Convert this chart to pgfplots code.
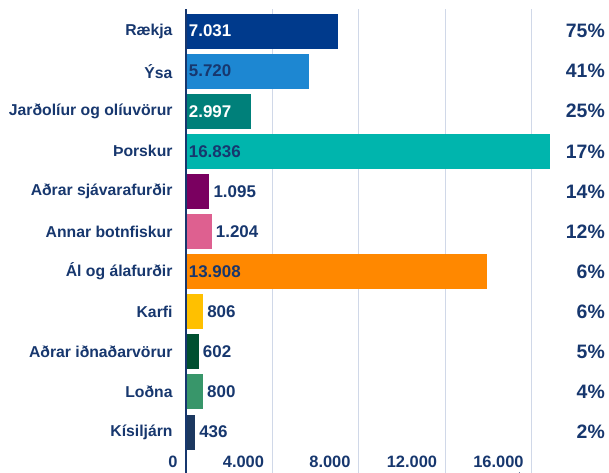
\documentclass[border=0pt]{standalone}
\usepackage{fontspec}
\setmainfont{Liberation Sans}
\usepackage{pgfplots}
\pgfplotsset{compat=1.18}
\definecolor{txt}{RGB}{23,55,110}
\definecolor{gridc}{RGB}{208,216,232}
\definecolor{c1}{RGB}{0,58,140}
\definecolor{c2}{RGB}{29,135,210}
\definecolor{c3}{RGB}{0,128,122}
\definecolor{c4}{RGB}{0,181,173}
\definecolor{c5}{RGB}{122,0,96}
\definecolor{c6}{RGB}{222,96,144}
\definecolor{c7}{RGB}{255,136,0}
\definecolor{c8}{RGB}{255,192,0}
\definecolor{c9}{RGB}{0,80,48}
\definecolor{c10}{RGB}{56,150,106}
\definecolor{c11}{RGB}{28,56,96}
\begin{document}
\begin{tikzpicture}[font=\fontsize{15.8}{18}\selectfont\bfseries, text=txt]
\begin{axis}[
  scale only axis, width=367.7bp, height=464bp,
  xmin=0, xmax=17000, ymin=-1.02, ymax=10.549,
  xbar, bar width=35bp, bar shift=0pt,
  axis line style={draw=none},
  major tick length=0pt,
  xtick={0,4000,8000,12000,16000},
  xticklabels={0,4.000,8.000,12.000,16.000},
  xmajorgrids, grid style={draw=gridc, line width=1.2bp},
  ytick={0,...,10},
  yticklabels={Kísiljárn,Loðna,Aðrar iðnaðarvörur,Karfi,Ál og álafurðir,Annar botnfiskur,Aðrar sjávarafurðir,Þorskur,Jarðolíur og olíuvörur,Ýsa,Rækja},
  yticklabel style={anchor=east, inner sep=0pt, xshift=-13bp, text=txt},
  xticklabel style={anchor=south east, inner sep=0pt, xshift=-8bp, yshift=5bp, text=txt, font=\fontsize{16.5}{18}\selectfont\bfseries},
  clip=false,
  nodes near coords, point meta=explicit symbolic,
  every node near coord/.append style={anchor=west, inner sep=0pt, xshift=4bp, text=txt, font=\fontsize{17}{19}\selectfont\bfseries},
]
\addplot[fill=c1, draw=none] coordinates {(7031,10) []};
\addplot[fill=c2, draw=none] coordinates {(5720,9) []};
\addplot[fill=c3, draw=none] coordinates {(2997,8) []};
\addplot[fill=c4, draw=none] coordinates {(16836,7) []};
\addplot[fill=c5, draw=none] coordinates {(1095,6) [1.095]};
\addplot[fill=c6, draw=none] coordinates {(1204,5) [1.204]};
\addplot[fill=c7, draw=none] coordinates {(13908,4) []};
\addplot[fill=c8, draw=none] coordinates {(806,3) [806]};
\addplot[fill=c9, draw=none] coordinates {(602,2) [602]};
\addplot[fill=c10, draw=none] coordinates {(800,1) [800]};
\addplot[fill=c11, draw=none] coordinates {(436,0) [436]};
\draw[txt, line width=2bp] (rel axis cs:0,0) -- (rel axis cs:0,1);
\begin{scope}[every node/.style={anchor=west, inner sep=0pt, xshift=3bp, font=\fontsize{17}{19}\selectfont\bfseries}]
\node[text=white] at (axis cs:0,10) {7.031};
\node[text=txt] at (axis cs:0,9) {5.720};
\node[text=white] at (axis cs:0,8) {2.997};
\node[text=txt] at (axis cs:0,7) {16.836};
\node[text=txt] at (axis cs:0,4) {13.908};
\end{scope}
\begin{scope}[every node/.style={anchor=east, inner sep=0pt, text=txt, font=\fontsize{19.5}{21}\selectfont\bfseries}]
\node at (axis cs:19385,10) {75\%};
\node at (axis cs:19385,9) {41\%};
\node at (axis cs:19385,8) {25\%};
\node at (axis cs:19385,7) {17\%};
\node at (axis cs:19385,6) {14\%};
\node at (axis cs:19385,5) {12\%};
\node at (axis cs:19385,4) {6\%};
\node at (axis cs:19385,3) {6\%};
\node at (axis cs:19385,2) {5\%};
\node at (axis cs:19385,1) {4\%};
\node at (axis cs:19385,0) {2\%};
\end{scope}
\end{axis}
\pgfresetboundingbox
\path[use as bounding box] ([xshift=-185.7bp]current axis.south west) rectangle ([xshift=55.6bp, yshift=9bp]current axis.north east);
\end{tikzpicture}
\end{document}
